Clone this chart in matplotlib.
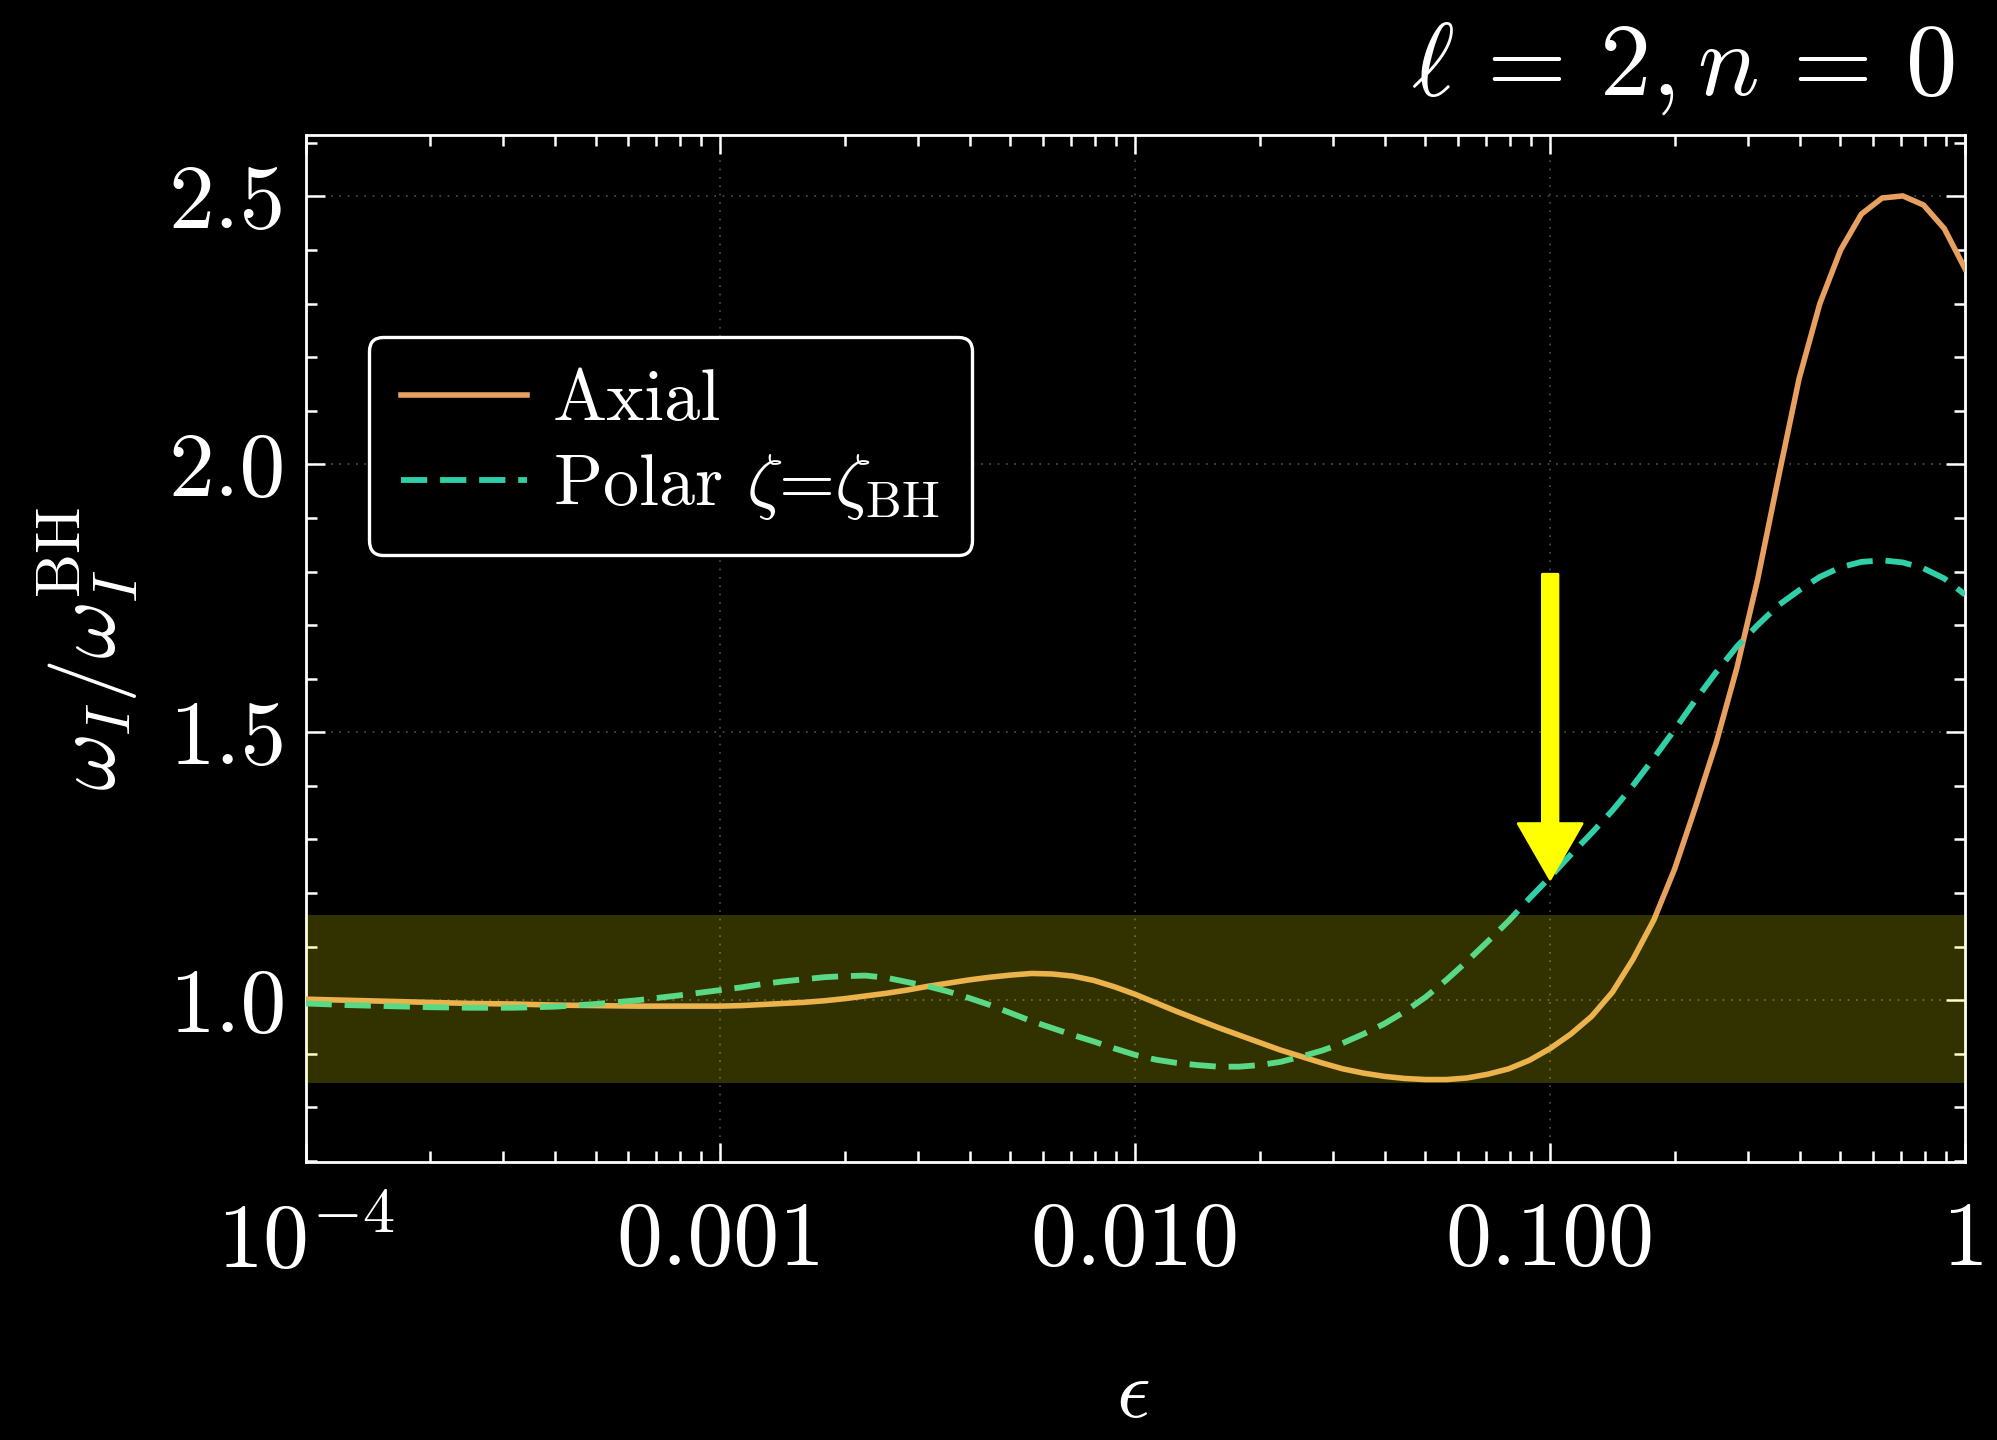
import matplotlib
matplotlib.use("Agg")
from matplotlib import pyplot as plt
from matplotlib.ticker import FixedLocator, FixedFormatter, NullFormatter, MultipleLocator, LogLocator
import numpy as np

# log10(epsilon) sampling points
log_eps = [-4.0, -3.9, -3.8, -3.7, -3.6, -3.5, -3.4, -3.3, -3.2, -3.1, -3.0,
           -2.95, -2.9, -2.85, -2.8, -2.75, -2.7, -2.65, -2.6, -2.55, -2.5,
           -2.45, -2.4, -2.35, -2.3, -2.25, -2.2, -2.15, -2.1, -2.05, -2.0,
           -1.95, -1.9, -1.85, -1.8, -1.75, -1.7, -1.65, -1.6, -1.55, -1.5,
           -1.45, -1.4, -1.35, -1.3, -1.25, -1.2, -1.15, -1.1, -1.05, -1.0,
           -0.95, -0.9, -0.85, -0.8, -0.75, -0.7, -0.65, -0.6, -0.55, -0.5,
           -0.45, -0.4, -0.35, -0.3, -0.25, -0.2, -0.15, -0.1, -0.05, 0.0]

axial = [1.002, 1.000, 0.998, 0.996, 0.994, 0.993, 0.991, 0.990, 0.989, 0.989, 0.989,
         0.990, 0.992, 0.994, 0.996, 0.999, 1.003, 1.008, 1.013, 1.019, 1.026,
         1.032, 1.038, 1.043, 1.047, 1.050, 1.049, 1.045, 1.037, 1.025, 1.011,
         0.995, 0.979, 0.964, 0.949, 0.935, 0.921, 0.907, 0.895, 0.883, 0.872,
         0.864, 0.858, 0.854, 0.852, 0.852, 0.855, 0.862, 0.872, 0.888, 0.910,
         0.937, 0.970, 1.015, 1.077, 1.150, 1.245, 1.360, 1.480, 1.620, 1.785,
         1.975, 2.160, 2.300, 2.400, 2.467, 2.497, 2.501, 2.484, 2.440, 2.365]

polar = [0.994, 0.991, 0.989, 0.987, 0.986, 0.986, 0.988, 0.993, 1.000, 1.009, 1.019,
         1.024, 1.030, 1.035, 1.039, 1.043, 1.045, 1.046, 1.042, 1.034, 1.026,
         1.016, 1.004, 0.991, 0.976, 0.961, 0.948, 0.935, 0.923, 0.910, 0.898,
         0.889, 0.883, 0.879, 0.876, 0.876, 0.879, 0.885, 0.895, 0.906, 0.920,
         0.937, 0.956, 0.979, 1.006, 1.038, 1.073, 1.110, 1.148, 1.190, 1.230,
         1.272, 1.312, 1.354, 1.401, 1.452, 1.505, 1.560, 1.612, 1.660, 1.700,
         1.737, 1.765, 1.790, 1.808, 1.818, 1.821, 1.817, 1.806, 1.787, 1.757]

band_lo, band_hi = 0.845, 1.16
arrow_eps = 0.1
arrow_top, arrow_tip = 1.795, 1.226

xticks = [1e-4, 1e-3, 1e-2, 1e-1, 1.0]
xticklabels = [r"$10^{-4}$", "0.001", "0.010", "0.100", "1"]
yticks = [1.0, 1.5, 2.0, 2.5]
yticklabels = ["1.0", "1.5", "2.0", "2.5"]

plt.rcParams["font.family"] = "serif"
plt.rcParams["font.serif"] = ["cmr10", "DejaVu Serif"]
plt.rcParams["mathtext.fontset"] = "cm"
plt.rcParams["axes.formatter.use_mathtext"] = True

fg = "white"
fig = plt.figure(figsize=(9.985, 7.2), dpi=200, facecolor="black")
ax = fig.add_axes([0.153, 0.193, 0.831, 0.713], facecolor="black")

eps = 10 ** np.array(log_eps)
ax.plot(eps, axial, color="#e8a060", linewidth=2.0, label="Axial", zorder=3)
ax.plot(eps, polar, color="#30cfa8", linewidth=2.1, dashes=(4.5, 2.2),
        label=r"Polar $\zeta$=$\zeta_{\rm BH}$", zorder=3)
ax.axhspan(band_lo, band_hi, color="#ffff00", alpha=0.2, linewidth=0, zorder=4)

ax.annotate("", xy=(arrow_eps, arrow_tip), xytext=(arrow_eps, arrow_top),
            arrowprops=dict(arrowstyle="simple,head_width=1.15,head_length=1.0,tail_width=0.28",
                            mutation_scale=20, color="#ffff00", shrinkA=0, shrinkB=0),
            zorder=5)

ax.set_xscale("log")
ax.set_xlim(1e-4, 1.0)
ax.set_ylim(0.698, 2.614)

ax.xaxis.set_major_locator(FixedLocator(xticks))
ax.xaxis.set_major_formatter(FixedFormatter(xticklabels))
ax.xaxis.set_minor_locator(LogLocator(base=10, subs=np.arange(2, 10), numticks=20))
ax.xaxis.set_minor_formatter(NullFormatter())
ax.yaxis.set_major_locator(FixedLocator(yticks))
ax.yaxis.set_major_formatter(FixedFormatter(yticklabels))
ax.yaxis.set_minor_locator(MultipleLocator(0.1))

ax.tick_params(which="both", direction="in", top=True, right=True, colors=fg,
               width=0.9, labelsize=33)
ax.tick_params(which="major", length=7)
ax.tick_params(which="minor", length=4)
ax.tick_params(axis="x", which="major", pad=14)
ax.tick_params(axis="y", which="major", pad=7)
for s in ax.spines.values():
    s.set_color(fg)
    s.set_linewidth(1.0)

ax.grid(True, which="major", color="#505050", linestyle=(0, (1, 4)), linewidth=0.6)

ax.set_ylabel(r"$\omega_I/\omega_I^{\rm BH}$", color=fg, fontsize=32)
ax.yaxis.set_label_coords(-0.1, 0.5)
fig.text(0.567, 0.03, r"$\epsilon$", color=fg, fontsize=30, ha="center", va="center")
fig.text(0.979, 0.934, r"$\ell \,=\, 2, n \,=\, 0$", color=fg, fontsize=37,
         ha="right", va="baseline")

leg = ax.legend(loc="upper left", bbox_to_anchor=(0.038, 0.804), fontsize=26,
                frameon=True, fancybox=True, facecolor="black", edgecolor=fg,
                labelcolor=fg, handlelength=1.75, handletextpad=0.35,
                borderpad=0.45, labelspacing=0.25, borderaxespad=0, framealpha=1.0)
leg.get_frame().set_linewidth(1.2)

fig.savefig("out.png", dpi=200, facecolor="black")
